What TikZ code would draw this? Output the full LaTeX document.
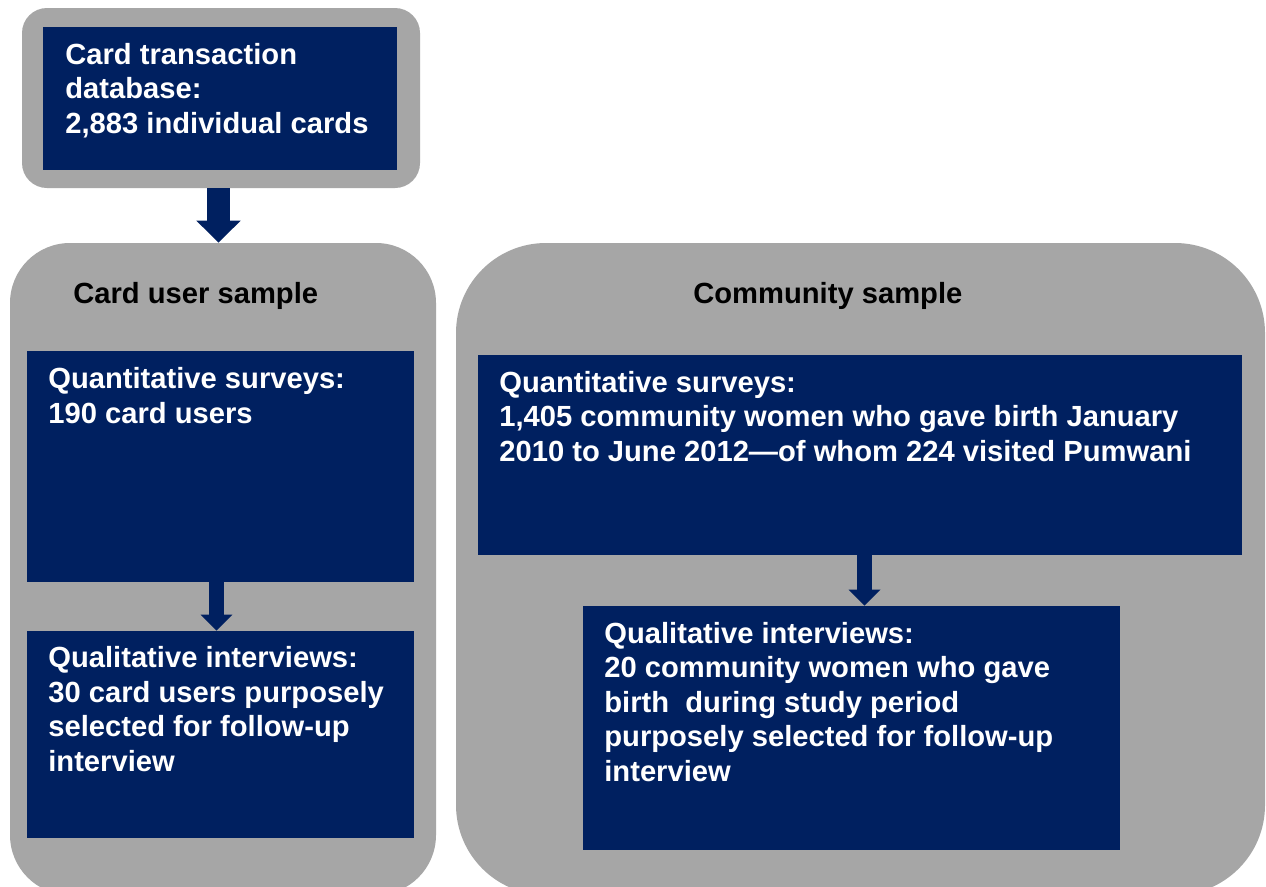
\documentclass[tikz,border=0pt]{standalone}
\usepackage{fontspec}
\setmainfont{Liberation Sans}
\usetikzlibrary{arrows.meta,fit}
\definecolor{navy}{RGB}{0,32,96}
\definecolor{panel}{RGB}{166,166,166}
\tikzset{
  greybox/.style={fill=panel, draw=none, inner sep=0pt, rectangle},
  navybox/.style={fill=navy, draw=none, inner sep=0pt, rectangle},
  wtext/.style={text=white, font=\fontsize{16.6pt}{19.6pt}\selectfont\bfseries, align=left, inner sep=0pt, anchor=base west},
  btext/.style={text=black, font=\fontsize{16.6pt}{19.6pt}\selectfont\bfseries, align=left, inner sep=0pt, anchor=base west},
  bigarrow/.style={draw=navy, line width=0.46cm, line cap=butt, -{Triangle[width=0.86cm,length=0.44cm]}},
  smallarrow/.style={draw=navy, line width=0.3cm, line cap=butt, -{Triangle[width=0.62cm,length=0.32cm]}}
}
\begin{document}
\begin{tikzpicture}[x=0.02cm,y=-0.02cm]
\useasboundingbox (0,0) rectangle (1266,886);
\clip (0,0) rectangle (1266,886);
\fill[white] (0,0) rectangle (1266,886);
% containers
\node[greybox, rounded corners=0.5cm, fit={(22,8)(420,188)}] (topgrey) {};
\node[greybox, rounded corners=1.2cm, fit={(10,243)(436,895)}] (leftgrey) {};
\node[greybox, rounded corners=1.8cm, fit={(456,243)(1265,895)}] (rightgrey) {};
% navy boxes
\node[navybox, fit={(43,27)(397,170)}] (db) {};
\node[navybox, fit={(27,351)(414,582)}] (lquant) {};
\node[navybox, fit={(27,631)(414,838)}] (lqual) {};
\node[navybox, fit={(478,355)(1242,555)}] (rquant) {};
\node[navybox, fit={(583,606)(1120,850)}] (rqual) {};
% texts (anchor = baseline of last line)
\node[wtext] (dbtext) at (65,133) {Card transaction\\database:\\2,883 individual cards};
\node[btext] (ltitle) at (73,303) {Card user sample};
\node[btext] (rtitle) at (693,303) {Community sample};
\node[wtext] (lquanttext) at (48,423) {Quantitative surveys:\\190 card users};
\node[wtext] (lqualtext) at (48,771) {Qualitative interviews:\\30 card users purposely\\selected for follow-up\\interview};
\node[wtext] (rquanttext) at (499,461) {Quantitative surveys:\\1,405 community women who gave birth January\\2010 to June 2012---of whom 224 visited Pumwani};
\node[wtext] (rqualtext) at (604,781) {Qualitative interviews:\\20 community women who gave\\birth\ \ during study period\\purposely selected for follow-up\\interview};
% arrows
\draw[bigarrow] ([xshift=-0.05cm]topgrey.south) -- ([xshift=-0.05cm]topgrey.south |- leftgrey.north);
\draw[smallarrow] ([xshift=-0.08cm]lquant.south) -- ([xshift=-0.08cm]lquant.south |- lqual.north);
\draw[smallarrow] ([xshift=0.09cm]rquant.south) -- ([xshift=0.09cm]rquant.south |- rqual.north);
\end{tikzpicture}
\end{document}
